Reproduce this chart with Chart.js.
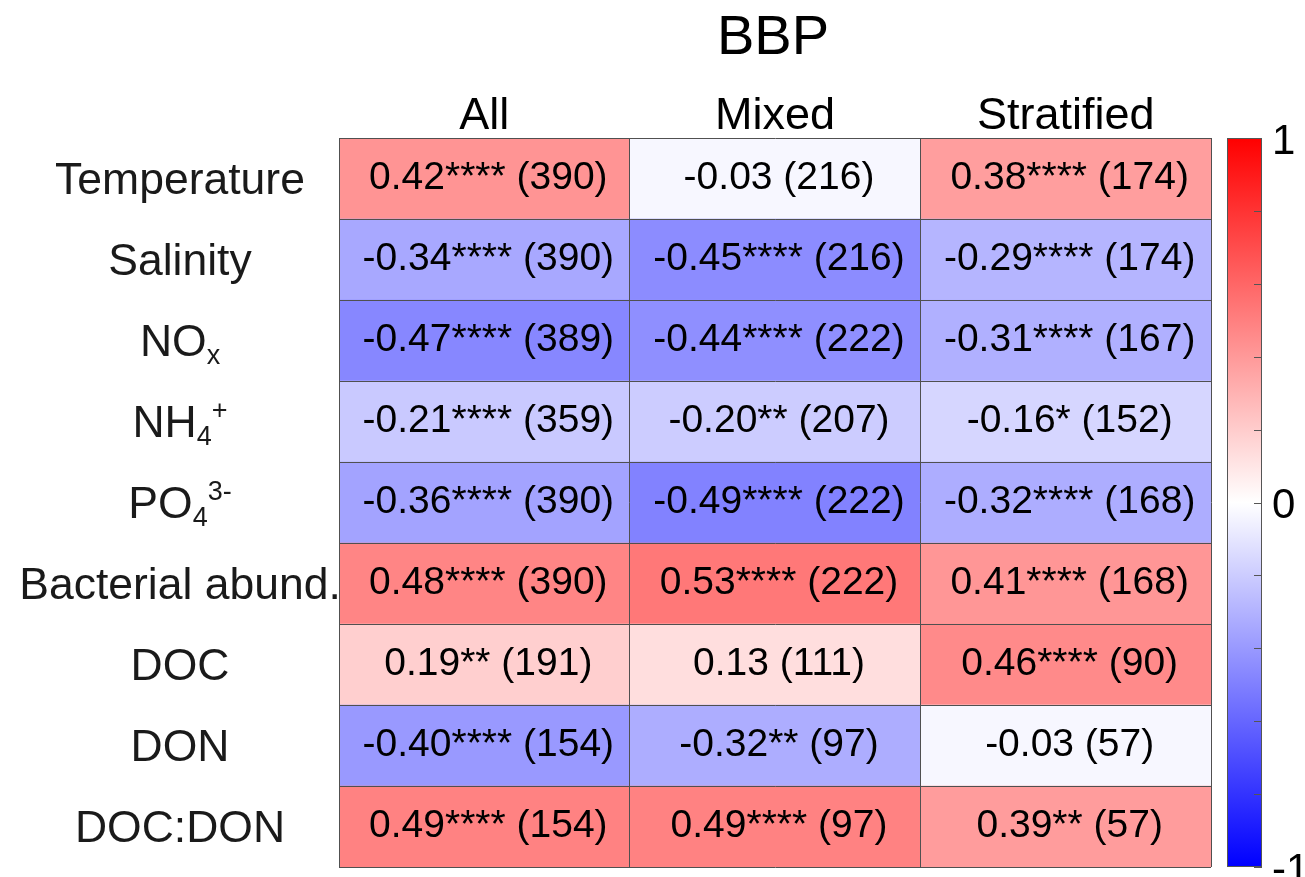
<!DOCTYPE html>
<html>
<head>
<meta charset="utf-8">
<script src="https://cdn.jsdelivr.net/npm/chart.js@4.4.1/dist/chart.umd.min.js"></script>
<style>
  html, body { margin: 0; padding: 0; background: #fff; }
  canvas { display: block; }
</style>
</head>
<body>
<canvas id="c" width="1305" height="877"></canvas>
<script>
// Correlation of BBP with environmental variables, per water-column regime
const chartTitle = 'BBP';
const columns = ['All', 'Mixed', 'Stratified'];
// _{..} marks a subscript, ^{..} a superscript
const rows = ['Temperature', 'Salinity', 'NO_{x}', 'NH_{4}^{+}', 'PO_{4}^{3-}',
              'Bacterial abund.', 'DOC', 'DON', 'DOC:DON'];

// correlation coefficient per column
const rAll   = [0.42, -0.34, -0.47, -0.21, -0.36, 0.48, 0.19, -0.40, 0.49];
const rMixed = [-0.03, -0.45, -0.44, -0.20, -0.49, 0.53, 0.13, -0.32, 0.49];
const rStrat = [0.38, -0.29, -0.31, -0.16, -0.32, 0.41, 0.46, -0.03, 0.39];

// sample counts per column
const nAll   = [390, 390, 389, 359, 390, 390, 191, 154, 154];
const nMixed = [216, 216, 222, 207, 222, 222, 111, 97, 97];
const nStrat = [174, 174, 167, 152, 168, 168, 90, 57, 57];

// significance stars per column
const sigAll   = ['****', '****', '****', '****', '****', '****', '**', '****', '****'];
const sigMixed = ['', '****', '****', '**', '****', '****', '', '**', '****'];
const sigStrat = ['****', '****', '****', '*', '****', '****', '****', '', '**'];

// colour bar
const colorbarLabels = [-1, 0, 1];
const colorbarStep = 0.2;

const rByCol = [rAll, rMixed, rStrat];
const nByCol = [nAll, nMixed, nStrat];
const sigByCol = [sigAll, sigMixed, sigStrat];

const FONT = '"Liberation Sans", Arial, Helvetica, sans-serif';
Chart.defaults.font.family = FONT;

// blue - white - red diverging map on [-1, 1]
function corrColor(v) {
  const t = Math.max(-1, Math.min(1, v));
  if (t >= 0) {
    const g = Math.round(255 * (1 - t));
    return `rgb(255,${g},${g})`;
  }
  const g = Math.round(255 * (1 + t));
  return `rgb(${g},${g},255)`;
}

function parseRich(label) {
  const parts = [];
  const re = /(_\{[^}]*\}|\^\{[^}]*\})/;
  label.split(re).forEach(p => {
    if (!p) return;
    if (p.startsWith('_{')) parts.push({ text: p.slice(2, -1), kind: 'sub' });
    else if (p.startsWith('^{')) parts.push({ text: p.slice(2, -1), kind: 'sup' });
    else parts.push({ text: p, kind: 'main' });
  });
  return parts;
}

const datasets = columns.map((col, c) => ({
  label: col,
  data: rows.map(() => 1),          // every cell spans one column unit
  backgroundColor: rByCol[c].map(corrColor),
  borderWidth: 0,
  barPercentage: 1,
  categoryPercentage: 1
}));

// title centred over the heatmap
const heatTitle = {
  id: 'heatTitle',
  afterDraw(chart) {
    const { ctx, chartArea } = chart;
    ctx.save();
    ctx.font = `56px ${FONT}`;
    ctx.fillStyle = '#000';
    ctx.textAlign = 'center';
    ctx.textBaseline = 'alphabetic';
    ctx.fillText(chartTitle, (chartArea.left + chartArea.right) / 2 - 2, 54);
    ctx.restore();
  }
};

// cell text: "r<stars> (n)"
const cellLabels = {
  id: 'cellLabels',
  afterDatasetsDraw(chart) {
    const ctx = chart.ctx;
    ctx.save();
    ctx.font = `39px ${FONT}`;
    ctx.fillStyle = '#000';
    ctx.textAlign = 'center';
    ctx.textBaseline = 'middle';
    chart.data.datasets.forEach((ds, c) => {
      const meta = chart.getDatasetMeta(c);
      meta.data.forEach((bar, i) => {
        const r = rByCol[c][i];
        const txt = `${r.toFixed(2)}${sigByCol[c][i]} (${nByCol[c][i]})`;
        const cx = (bar.x + bar.base) / 2;
        ctx.fillText(txt, cx + 4, bar.y);
      });
    });
    ctx.restore();
  }
};

// row labels with sub/superscripts
const rowLabels = {
  id: 'rowLabels',
  afterDraw(chart) {
    const ctx = chart.ctx;
    const y = chart.scales.y;
    const centerX = 180;
    const mainSize = 44.5, smallSize = 27;
    ctx.save();
    ctx.fillStyle = '#1a1a1a';
    ctx.textBaseline = 'alphabetic';
    ctx.textAlign = 'left';
    rows.forEach((lab, i) => {
      const parts = parseRich(lab);
      let w = 0;
      parts.forEach(p => {
        ctx.font = `${p.kind === 'main' ? mainSize : smallSize}px ${FONT}`;
        p.w = ctx.measureText(p.text).width;
        w += p.w;
      });
      const base = y.getPixelForValue(i) + 15;
      let x = centerX - w / 2;
      parts.forEach(p => {
        ctx.font = `${p.kind === 'main' ? mainSize : smallSize}px ${FONT}`;
        const dy = p.kind === 'sub' ? 8 : (p.kind === 'sup' ? -18 : 0);
        ctx.fillText(p.text, x, base + dy);
        x += p.w;
      });
    });
    ctx.restore();
  }
};

// colour bar drawn along the cb scale
const colorbar = {
  id: 'colorbar',
  afterDraw(chart) {
    const s = chart.scales.cb;
    const ctx = chart.ctx;
    const x0 = s.left + 16, x1 = s.left + 51;
    const yTop = s.getPixelForValue(1), yBot = s.getPixelForValue(-1);
    const g = ctx.createLinearGradient(0, yTop, 0, yBot);
    g.addColorStop(0, corrColor(1));
    g.addColorStop(0.5, corrColor(0));
    g.addColorStop(1, corrColor(-1));
    ctx.save();
    ctx.fillStyle = g;
    ctx.fillRect(x0, yTop, x1 - x0, yBot - yTop);
    ctx.strokeStyle = '#555';
    ctx.lineWidth = 1;
    ctx.strokeRect(x0 + 0.5, yTop + 0.5, x1 - x0 - 1, yBot - yTop - 1);
    ctx.beginPath();
    s.ticks.forEach(t => {
      const py = Math.round(s.getPixelForValue(t.value)) + 0.5;
      ctx.moveTo(x1 - 8, py);
      ctx.lineTo(x1, py);
    });
    ctx.stroke();
    ctx.restore();
  }
};

new Chart(document.getElementById('c'), {
  type: 'bar',
  data: { labels: rows, datasets },
  options: {
    indexAxis: 'y',
    responsive: false,
    animation: false,
    devicePixelRatio: 1,
    layout: { padding: { left: 0, right: 0, top: 0, bottom: 10 } },
    plugins: {
      legend: { display: false },
      tooltip: { enabled: false },
      title: { display: false }
    },
    scales: {
      x: {
        type: 'linear',
        stacked: true,
        position: 'top',
        min: 0,
        max: columns.length,
        grid: { display: false, drawTicks: false },
        border: { display: false },
        afterBuildTicks: s => { s.ticks = columns.map((_, i) => ({ value: i + 0.5 })); },
        ticks: {
          autoSkip: false,
          maxRotation: 0,
          color: '#000',
          padding: -1,
          font: { size: 45, lineHeight: 1 },
          callback: (v, i) => columns[i]
        },
        afterFit: s => { s.height = 138; }
      },
      xg: {
        type: 'linear',
        position: 'bottom',
        min: 0,
        max: columns.length,
        offset: false,
        ticks: { display: false, stepSize: 1 },
        grid: { color: '#505050', lineWidth: 1, drawTicks: false, z: 1 },
        border: { display: false },
        afterFit: s => { s.height = 0; }
      },
      y: {
        type: 'category',
        stacked: true,
        offset: true,
        grid: { display: true, offset: true, color: '#505050', lineWidth: 1, drawTicks: false, z: 1 },
        border: { display: true, color: '#505050', z: 1 },
        ticks: { display: false },
        afterFit: s => { s.width = 339; }
      },
      cb: {
        type: 'linear',
        position: 'right',
        min: -1,
        max: 1,
        offset: false,
        grid: { display: false, drawTicks: true, tickLength: 61 },
        border: { display: false },
        ticks: {
          stepSize: colorbarStep,
          color: '#000',
          padding: 0,
          labelOffset: 4,
          font: { size: 42, lineHeight: 0.4 },
          callback: v => {
            const hit = colorbarLabels.find(t => Math.abs(t - v) < 1e-6);
            return hit === undefined ? '' : String(hit);
          }
        },
        afterFit: s => { s.width = 94; }
      }
    }
  },
  plugins: [cellLabels, rowLabels, colorbar, heatTitle]
});
</script>
</body>
</html>
